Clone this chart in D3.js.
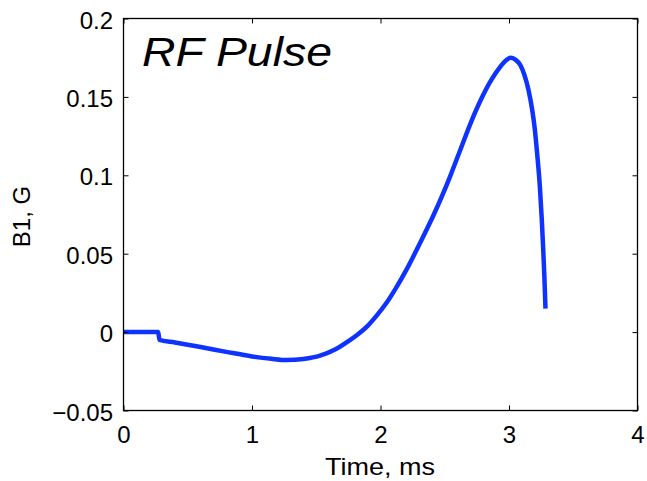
<!DOCTYPE html>
<html><head><meta charset="utf-8">
<script src="https://cdn.jsdelivr.net/npm/d3@7"></script>
<style>body{margin:0;background:#fff}svg{display:block}text{font-family:"Liberation Sans",Arial,Helvetica,sans-serif}</style>
</head><body>
<svg id="c" width="647" height="481"></svg>
<script>
const timeMs = [0,0.27,0.28,0.4,0.6,0.8,1.0,1.15,1.27,1.4,1.53,1.65,1.75,1.82,1.9,1.97,2.05,2.12,2.2,2.26,2.33,2.415,2.48,2.545,2.62,2.70,2.78,2.86,2.93,2.98,3.01,3.05,3.09,3.12,3.15,3.18,3.20,3.22,3.24,3.255,3.265,3.275,3.284];
const b1G = [0,0,-0.005,-0.0066,-0.0095,-0.0126,-0.0155,-0.0170,-0.0178,-0.0171,-0.0150,-0.0110,-0.0058,-0.0017,0.0040,0.0105,0.0190,0.0280,0.0395,0.0490,0.0605,0.0750,0.0870,0.1000,0.1160,0.1330,0.1480,0.1605,0.1690,0.1735,0.1750,0.1738,0.1700,0.1640,0.1550,0.1420,0.1300,0.1130,0.0930,0.0720,0.0550,0.0360,0.0150];
const xTicks = [0,1,2,3,4];
const yTicks = [-0.05,0,0.05,0.1,0.15,0.2];
const yTickLabels = ["\u22120.05","0","0.05","0.1","0.15","0.2"];
const title = "RF Pulse", xLabel = "Time, ms", yLabel = "B1, G";

const L=123.5,R=637.5,T=18.5,B=410.5;
const svg=d3.select("#c");
const x=d3.scaleLinear().domain([0,4]).range([L,R]);
const y=d3.scaleLinear().domain([-0.05,0.2]).range([B,T]);

const data=timeMs.map((t,i)=>[t,b1G[i]]);
svg.append("path").datum(data)
  .attr("d",d3.line().x(d=>x(d[0])).y(d=>y(d[1])).curve(d3.curveMonotoneX))
  .attr("fill","none").attr("stroke","#0f33ff").attr("stroke-width",4.5);

const fmtY=d=>yTickLabels[yTicks.indexOf(d)];
const ax=(g)=>{g.select(".domain").remove();g.selectAll("line").attr("stroke","#000");};
svg.append("g").attr("transform",`translate(0,${B})`)
  .call(d3.axisBottom(x).tickValues(xTicks).tickSize(-5).tickPadding(15.5).tickFormat(d3.format("d")))
  .call(ax).selectAll("text").attr("font-size",24).attr("fill","#000");
svg.append("g").attr("transform",`translate(0,${T})`)
  .call(d3.axisTop(x).tickValues(xTicks).tickSize(-5).tickFormat(""))
  .call(ax);
svg.append("g").attr("transform",`translate(${L},0)`)
  .call(d3.axisLeft(y).tickValues(yTicks).tickSize(-5).tickPadding(10.5).tickFormat(fmtY))
  .call(ax).selectAll("text").attr("font-size",24).attr("fill","#000").attr("dy","0.4em");
svg.append("g").attr("transform",`translate(${R},0)`)
  .call(d3.axisRight(y).tickValues(yTicks).tickSize(-5).tickFormat(""))
  .call(ax);
svg.selectAll(".tick line").attr("stroke-width",1);
svg.append("rect").attr("x",L).attr("y",T).attr("width",R-L).attr("height",B-T)
  .attr("fill","none").attr("stroke","#000").attr("stroke-width",1.3);

svg.append("text").attr("x",142).attr("y",66).attr("font-size",40).attr("font-style","italic")
  .attr("textLength",190).attr("lengthAdjust","spacingAndGlyphs").text(title);
svg.append("text").attr("x",380).attr("y",475).attr("text-anchor","middle").attr("font-size",24)
  .attr("textLength",110).attr("lengthAdjust","spacingAndGlyphs").text(xLabel);
svg.append("text").attr("transform",`translate(30,${(T+B)/2+2}) rotate(-90)`).attr("text-anchor","middle").attr("font-size",24).text(yLabel);
</script>
</body></html>
